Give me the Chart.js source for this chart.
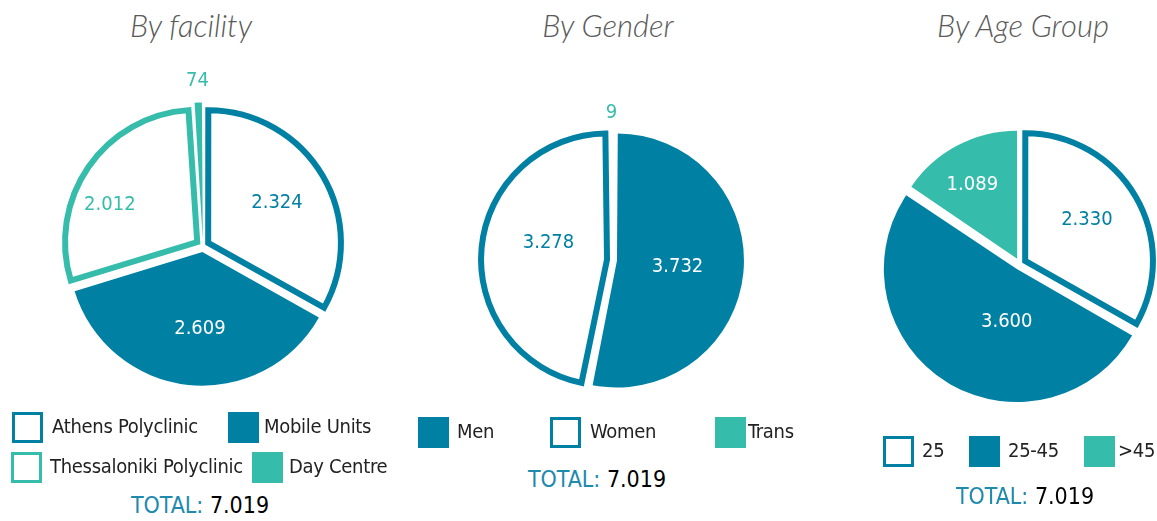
<!DOCTYPE html>
<html>
<head>
<meta charset="utf-8">
<script src="https://cdn.jsdelivr.net/npm/chart.js@4.4.1/dist/chart.umd.min.js"></script>
<style>
body { margin: 0; background: #fff; width: 1157px; height: 521px; overflow: hidden; position: relative;
       font-family: 'DejaVu Sans Condensed', 'DejaVu Sans', sans-serif; font-stretch: condensed; }
.title { position: absolute; top: 6px; font-family: Lato, 'Open Sans', sans-serif; font-style: italic; font-weight: 300;
         font-size: 31px; color: #5a5a5a; transform: translateX(-50%); white-space: nowrap; font-stretch: normal; }
.pie { position: absolute; }
.sw { position: absolute; width: 31px; height: 31px; box-sizing: border-box; }
.lt { position: absolute; font-size: 20px; letter-spacing: -0.3px; color: #222; white-space: nowrap; line-height: 31px; }
.total { position: absolute; font-size: 23px; white-space: nowrap; transform: translateX(-50%); }
.total span { color: #1e8aae; }
</style>
</head>
<body>
<div class="title" style="left:191px">By facility</div>
<div class="title" style="left:608px">By Gender</div>
<div class="title" style="left:1023px">By Age Group</div>

<div class="pie" style="left:23px;top:56px;width:360px;height:380px"><canvas id="facility"></canvas></div>
<div class="pie" style="left:432px;top:80px;width:360px;height:360px"><canvas id="gender"></canvas></div>
<div class="pie" style="left:840px;top:84px;width:360px;height:360px"><canvas id="age"></canvas></div>

<script>
// values
const facilityLabels = ['Athens Polyclinic', 'Mobile Units', 'Thessaloniki Polyclinic', 'Day Centre'];
const facilityValues = [2324, 2609, 2012, 74];

const genderLabels = ['Men', 'Women', 'Trans'];
const genderValues = [3732, 3278, 9];

const ageLabels = ['25', '25-45', '>45'];
const ageValues = [2330, 3600, 1089];

const BLUE = '#0080a3';
const TEAL = '#35bcab';

function fmt(n) {
    return String(n).replace(/\B(?=(\d{3})+(?!\d))/g, '.');
}

// draws the numbers on / above the slices
const valueLabels = {
    id: 'valueLabels',
    afterDatasetsDraw(chart, args, opts) {
        const ctx = chart.ctx;
        const meta = chart.getDatasetMeta(0);
        const values = chart.data.datasets[0].data;
        ctx.save();
        ctx.font = 'condensed 20px "DejaVu Sans Condensed", "DejaVu Sans", sans-serif';
        ctx.fontStretch = 'condensed';
        ctx.textAlign = 'center';
        ctx.textBaseline = 'middle';
        meta.data.forEach((arc, i) => {
            const p = arc.getProps(['x', 'y', 'startAngle', 'endAngle', 'outerRadius'], true);
            const mid = (p.startAngle + p.endAngle) / 2 + opts.turn[i] * Math.PI / 180;
            const r = p.outerRadius * opts.dist[i];
            ctx.fillStyle = opts.colors[i];
            ctx.fillText(fmt(values[i]), p.x + Math.cos(mid) * r, p.y + Math.sin(mid) * r);
        });
        ctx.restore();
    }
};

function makePie(id, labels, values, style, radius, labelOpts) {
    return new Chart(document.getElementById(id), {
        type: 'pie',
        data: {
            labels: labels,
            datasets: [{
                data: values,
                backgroundColor: style.map(s => s.fill ? s.color : '#ffffff'),
                borderColor: style.map(s => s.color),
                borderWidth: style.map(s => s.fill ? 0 : 6),
                borderAlign: 'center',
                borderJoinStyle: 'miter',
                // chart.js v4 moves an arc by a quarter of this value
                offset: style.map(s => s.offset * 4),
                hoverOffset: 0
            }]
        },
        options: {
            responsive: true,
            maintainAspectRatio: false,
            animation: false,
            events: [],
            radius: radius,
            plugins: {
                legend: { display: false },
                tooltip: { enabled: false },
                valueLabels: labelOpts
            }
        },
        plugins: [valueLabels]
    });
}

const facilityStyle = [
    { color: BLUE, fill: false, offset: 6 },
    { color: BLUE, fill: true, offset: 6 },
    { color: TEAL, fill: false, offset: 7 },
    { color: TEAL, fill: true, offset: 6 }
];
const genderStyle = [
    { color: BLUE, fill: true, offset: 5 },
    { color: BLUE, fill: false, offset: 5 },
    { color: TEAL, fill: true, offset: 5 }
];
const ageStyle = [
    { color: BLUE, fill: false, offset: 6 },
    { color: BLUE, fill: true, offset: 6 },
    { color: TEAL, fill: true, offset: 6 }
];

makePie('facility', facilityLabels, facilityValues, facilityStyle, 132,
    { dist: [0.65, 0.63, 0.77, 1.25], turn: [0, -4, -11, 0], colors: [BLUE, '#ffffff', TEAL, TEAL] });
makePie('gender', genderLabels, genderValues, genderStyle, 122,
    { dist: [0.54, 0.54, 1.21], turn: [0, 10, 0], colors: ['#ffffff', BLUE, TEAL] });
makePie('age', ageLabels, ageValues, ageStyle, 127,
    { dist: [0.63, 0.47, 0.73], turn: [-3, -19, -3], colors: [BLUE, '#ffffff', '#ffffff'] });

// html legends, box positions per item
function legend(labels, style, boxes) {
    labels.forEach((lab, i) => {
        const b = boxes[i];
        const sw = document.createElement('div');
        sw.className = 'sw';
        sw.style.left = b[0] + 'px';
        sw.style.top = b[1] + 'px';
        if (style[i].fill) sw.style.background = style[i].color;
        else sw.style.border = '3px solid ' + style[i].color;
        document.body.appendChild(sw);
        const t = document.createElement('div');
        t.className = 'lt';
        t.textContent = lab;
        t.style.left = b[2] + 'px';
        t.style.top = (b[1] - 1) + 'px';
        document.body.appendChild(t);
    });
}
legend(facilityLabels, facilityStyle, [[12, 412, 52], [228, 412, 264], [11, 452, 50], [252, 452, 289]]);
legend(genderLabels, genderStyle, [[418, 417, 457], [550, 417, 590], [715, 417, 748]]);
legend(ageLabels, ageStyle, [[883, 436, 922], [969, 436, 1008], [1084, 436, 1118]]);

function total(values, x, y) {
    const d = document.createElement('div');
    d.className = 'total';
    d.style.left = x + 'px';
    d.style.top = y + 'px';
    d.innerHTML = '<span>TOTAL:</span> ' + fmt(values.reduce((a, b) => a + b, 0));
    document.body.appendChild(d);
}
total(facilityValues, 200, 492);
total(genderValues, 597, 466);
total(ageValues, 1025, 483);
</script>
</body>
</html>
